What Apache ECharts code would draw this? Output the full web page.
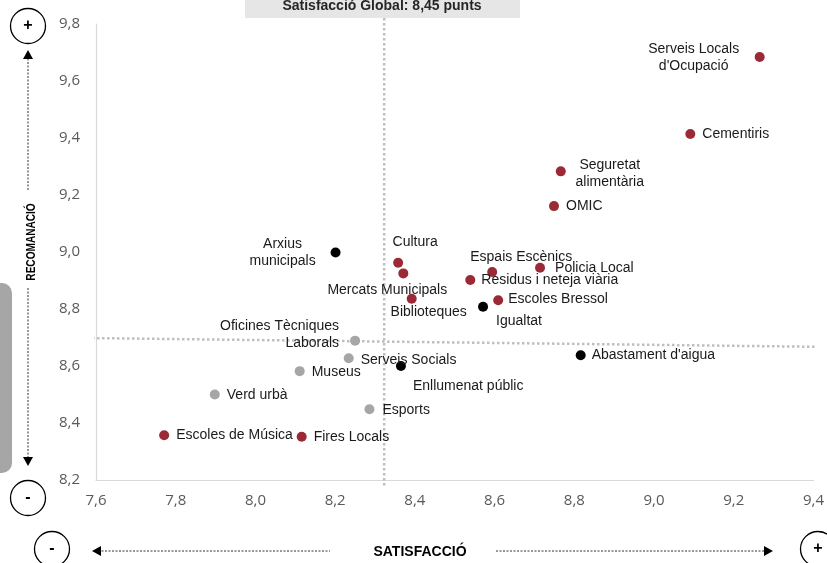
<!DOCTYPE html>
<html>
<head>
<meta charset="utf-8">
<script src="https://cdn.jsdelivr.net/npm/echarts@6/dist/echarts.min.js"></script>
<style>
  html, body { margin: 0; padding: 0; background: #fff; }
  #chart { width: 827px; height: 563px; }
</style>
</head>
<body>
<div id="chart"></div>
<script>
// Services: satisfaction (x) vs. recommendation (y)
const serveis = [
  "Serveis Locals\nd'Ocupació", 'Cementiris', 'Seguretat\nalimentària', 'OMIC',
  'Arxius\nmunicipals', 'Cultura', 'Mercats Municipals', 'Biblioteques',
  'Residus i neteja viària', 'Espais Escènics', 'Policia Local', 'Escoles Bressol',
  'Igualtat', 'Oficines Tècniques\nLaborals', 'Serveis Socials', 'Enllumenat públic',
  'Museus', 'Verd urbà', 'Esports', 'Escoles de Música', 'Fires Locals', "Abastament d'aigua"
];
const satisfaccio = [
  9.265, 9.091, 8.766, 8.749,
  8.201, 8.358, 8.371, 8.392,
  8.539, 8.594, 8.714, 8.609,
  8.571, 8.250, 8.234, 8.365,
  8.111, 7.898, 8.286, 7.771, 8.116, 8.816
];
const recomanacio = [
  9.684, 9.414, 9.283, 9.161,
  8.998, 8.962, 8.925, 8.836,
  8.902, 8.930, 8.945, 8.831,
  8.808, 8.689, 8.627, 8.600,
  8.582, 8.500, 8.448, 8.357, 8.352, 8.638
];
const grup = [
  'vermell', 'vermell', 'vermell', 'vermell',
  'negre', 'vermell', 'vermell', 'vermell',
  'vermell', 'vermell', 'vermell', 'vermell',
  'negre', 'gris', 'gris', 'negre',
  'gris', 'gris', 'gris', 'vermell', 'vermell', 'negre'
];
const xTicks = [7.6, 9.4, 0.2];   // min, max, step
const yTicks = [8.2, 9.8, 0.2];
const satisfaccioGlobal = 8.323;  // vertical reference line
const refRecomanacio = [[7.59, 8.698], [9.4275, 8.667]]; // horizontal reference line ends

// label placement per service: [align, dx, dy]
const etiqueta = {
  "Serveis Locals\nd'Ocupació": ['center', -66, 1],
  'Cementiris': ['left', 12, 0],
  'Seguretat\nalimentària': ['center', 49, 2],
  'OMIC': ['left', 12, 0],
  'Arxius\nmunicipals': ['center', -53, 0],
  'Cultura': ['center', 17, -21],
  'Mercats Municipals': ['center', -16, 17],
  'Biblioteques': ['center', 17, 13],
  'Residus i neteja viària': ['left', 11, 0],
  'Espais Escènics': ['center', 29, -15],
  'Policia Local': ['left', 15, 0],
  'Escoles Bressol': ['left', 10, -1],
  'Igualtat': ['center', 36, 14],
  'Oficines Tècniques\nLaborals': ['right', -16, -6],
  'Serveis Socials': ['left', 12, 2],
  'Enllumenat públic': ['left', 12, 20],
  'Museus': ['left', 12, 1],
  'Verd urbà': ['left', 12, 1],
  'Esports': ['left', 13, 1],
  'Escoles de Música': ['left', 12, 0],
  'Fires Locals': ['left', 12, 0],
  "Abastament d'aigua": ['left', 11, 0]
};
const colors = { vermell: '#9C2A36', negre: '#000000', gris: '#A6A6A6' };

const chart = echarts.init(document.getElementById('chart'));
const fmt = v => v.toFixed(1).replace('.', ',');

function grupSeries(g) {
  const data = [];
  serveis.forEach((s, i) => {
    if (grup[i] !== g) return;
    const p = etiqueta[s];
    data.push({
      name: s,
      value: [satisfaccio[i], recomanacio[i]],
      label: { align: p[0], offset: [p[1], p[2]] }
    });
  });
  return {
    type: 'scatter',
    symbolSize: 10,
    z: 5,
    itemStyle: { color: colors[g], opacity: 1 },
    label: {
      show: true,
      position: 'inside',
      verticalAlign: 'middle',
      formatter: d => d.name,
      color: '#1a1a1a',
      fontFamily: 'Liberation Sans, Arial, sans-serif',
      fontSize: 14,
      lineHeight: 17
    },
    emphasis: { disabled: true },
    data
  };
}

const dotted = { color: '#BFBFBF', width: 2.5, type: [2.5, 2.5] };
const labelFont = { color: '#595959', fontFamily: 'Liberation Sans Narrow, Open Sans, sans-serif', fontSize: 15 };

const arrowHead = (x, y, dir) => {
  // small filled triangle pointing in dir: 'up','down','left','right'
  const s = 5, l = 9;
  let pts;
  if (dir === 'up') pts = [[x, y], [x - s, y + l], [x + s, y + l]];
  if (dir === 'down') pts = [[x, y], [x - s, y - l], [x + s, y - l]];
  if (dir === 'left') pts = [[x, y], [x + l, y - s], [x + l, y + s]];
  if (dir === 'right') pts = [[x, y], [x - l, y - s], [x - l, y + s]];
  return { type: 'polygon', shape: { points: pts }, style: { fill: '#000' }, z: 10 };
};
const dashLine = (x1, y1, x2, y2) => ({
  type: 'line', shape: { x1, y1, x2, y2 },
  style: { stroke: '#333', lineWidth: 1, lineDash: [2, 1.5] }, z: 10
});
const signCircle = (cx, cy, sign) => ({
  type: 'group', z: 10,
  children: [
    { type: 'circle', shape: { cx, cy, r: 17.5 }, style: { fill: '#fff', stroke: '#000', lineWidth: 1.3 } },
    { type: 'text', x: cx, y: cy, style: { text: sign, fill: '#000', font: 'bold 16px Liberation Sans, Arial, sans-serif', align: 'center', verticalAlign: 'middle' } }
  ]
});

chart.setOption({
  animation: false,
  grid: { left: 96, right: 11, top: 24, bottom: 83 },
  xAxis: {
    type: 'value', min: xTicks[0], max: xTicks[1], interval: xTicks[2],
    axisLine: { show: true, lineStyle: { color: '#D9D9D9', width: 1.2 } },
    axisTick: { show: false },
    splitLine: { show: false },
    axisLabel: Object.assign({ formatter: fmt, margin: 13 }, labelFont)
  },
  yAxis: {
    type: 'value', min: yTicks[0], max: yTicks[1], interval: yTicks[2],
    axisLine: { show: true, lineStyle: { color: '#D9D9D9', width: 1.2 } },
    axisTick: { show: false },
    splitLine: { show: false },
    axisLabel: Object.assign({ formatter: fmt, margin: 16 }, labelFont)
  },
  series: [
    {
      type: 'line', clip: false, symbol: 'none', silent: true, z: 2,
      lineStyle: dotted,
      data: [[satisfaccioGlobal, 9.821], [satisfaccioGlobal, 8.18]]
    },
    {
      type: 'line', clip: false, symbol: 'none', silent: true, z: 2,
      lineStyle: dotted,
      data: refRecomanacio
    },
    grupSeries('vermell'),
    grupSeries('negre'),
    grupSeries('gris')
  ],
  graphic: [
    // header banner
    { type: 'rect', shape: { x: 245, y: 0, width: 275, height: 18 }, style: { fill: '#E6E6E6' }, z: 10 },
    { type: 'text', x: 382, y: 6, style: { text: 'Satisfacció Global: 8,45 punts', fill: '#262626', font: 'bold 14px Liberation Sans, Arial, sans-serif', align: 'center', verticalAlign: 'middle' }, z: 11 },
    // side tab
    { type: 'rect', shape: { x: -12, y: 283, width: 24, height: 190, r: 10 }, style: { fill: '#A6A6A6' }, z: 1 },
    // vertical axis title with arrows
    signCircle(28, 26, '+'),
    signCircle(28, 498, '-'),
    dashLine(28, 55, 28, 190),
    arrowHead(28, 50, 'up'),
    dashLine(28, 288, 28, 460),
    arrowHead(28, 466, 'down'),
    { type: 'text', x: 32, y: 242, rotation: Math.PI / 2, scaleX: 0.84, style: { text: 'RECOMANACIÓ', fill: '#000', font: 'bold 12px Liberation Sans, Arial, sans-serif', align: 'center', verticalAlign: 'middle' }, z: 10 },
    // horizontal axis title with arrows
    signCircle(52, 549, '-'),
    signCircle(818, 549, '+'),
    dashLine(98, 551, 330, 551),
    arrowHead(92, 551, 'left'),
    dashLine(496, 551, 767, 551),
    arrowHead(773, 551, 'right'),
    { type: 'text', x: 420, y: 552, style: { text: 'SATISFACCIÓ', fill: '#000', font: 'bold 14px Liberation Sans, Arial, sans-serif', align: 'center', verticalAlign: 'middle' }, z: 10 }
  ]
});
</script>
</body>
</html>
